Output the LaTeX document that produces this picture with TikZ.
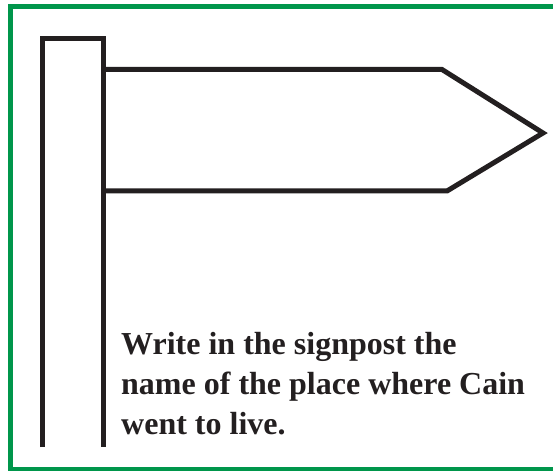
\documentclass[tikz,border=0pt]{standalone}
\usepackage{fontspec}
\setmainfont{Liberation Serif}
\usepackage{xcolor}
\usepackage{tikz}
\definecolor{SignGreen}{HTML}{00964B}
\definecolor{SignInk}{HTML}{231F20}

\begin{document}
\begin{tikzpicture}[x=1bp,y=-1bp]
\useasboundingbox (0,0) rectangle (553,471);
\clip (0,0) rectangle (553,471);
% frame
\draw[SignGreen,line width=5bp] (570,6.5) -- (10.5,6.5) -- (10.5,469.8) -- (570,469.8);
% post and sign
\draw[SignInk,line width=5bp] (42,447) -- (42,38.5) -- (103.5,38.5) -- (103.5,447);
\draw[SignInk,line width=5bp,line join=miter] (103.5,69.5) -- (442,69.5) -- (543,133) -- (447,191) -- (103.5,191);
\node[anchor=north west,align=left,inner sep=0pt,text=SignInk,font=\fontsize{32bp}{40bp}\selectfont\bfseries] (task) at (121,332) {Write in the signpost the\\name of the place where Cain\\went to live.};
\end{tikzpicture}
\end{document}
